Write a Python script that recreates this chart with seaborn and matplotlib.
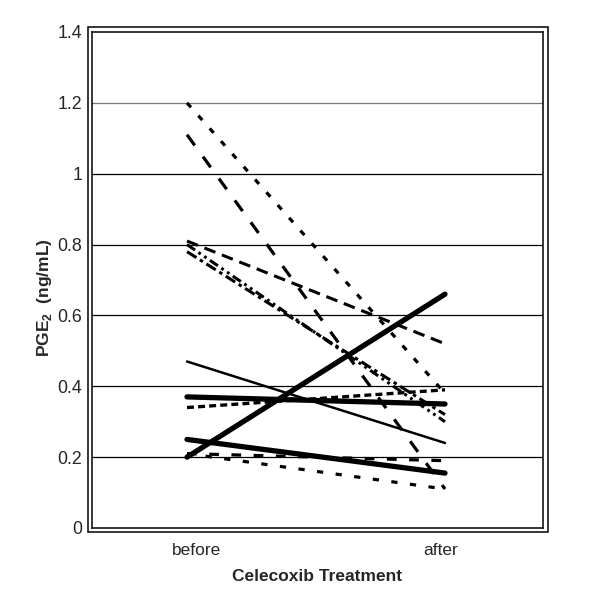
import numpy as np
import pandas as pd
import seaborn as sns
import matplotlib
matplotlib.use("Agg")
import matplotlib.pyplot as plt
from matplotlib.patches import Rectangle
import matplotlib.transforms as mtransforms

# ---- data ----
timepoints = ["before", "after"]
before = [1.20, 1.11, 0.81, 0.80, 0.78, 0.47, 0.37, 0.34, 0.20, 0.25, 0.21, 0.21]
after = [0.38, 0.11, 0.52, 0.30, 0.32, 0.24, 0.35, 0.39, 0.66, 0.155, 0.19, 0.11]
subjects = [f"s{i+1}" for i in range(len(before))]

# styles per subject (linewidth in pt, dash pattern in pt)
styles = [
    (2.3, (0, (4.3, 8.0))),
    (2.3, (0, (9.5, 10.0))),
    (2.2, (0, (8.5, 5.0))),
    (2.2, (0, (7, 3, 2, 3, 2, 3))),
    (2.2, (0, (8, 3, 2.5, 3))),
    (1.8, "-"),
    (3.8, "-"),
    (2.4, (0, (5, 3))),
    (3.8, "-"),
    (3.8, "-"),
    (2.3, (0, (7, 9))),
    (2.3, (0, (4.5, 9))),
]

df = pd.DataFrame({
    "subject": np.repeat(subjects, 2),
    "time": timepoints * len(subjects),
    "value": np.ravel(np.column_stack([before, after])),
})

sns.set_theme(style="white")
plt.rcParams["font.family"] = ["Liberation Sans", "DejaVu Sans"]
plt.rcParams["mathtext.fontset"] = "custom"
plt.rcParams["mathtext.bf"] = "Liberation Sans:bold"
plt.rcParams["mathtext.rm"] = "Liberation Sans"
plt.rcParams["lines.scale_dashes"] = False

fig = plt.figure(figsize=(6, 6), dpi=100)
ax = fig.add_axes([92 / 600, 72 / 600, 451 / 600, 496 / 600])

for subj, (lw, ls) in zip(subjects, styles):
    sub = df[df["subject"] == subj]
    sns.lineplot(data=sub, x="time", y="value", ax=ax, color="black",
                 linewidth=lw, linestyle=ls, sort=False, estimator=None)

ax.set_xlim(-95 / 258, 1 + 98 / 258)
ax.set_ylim(0, 1.4)
ax.set_yticks(np.arange(0, 1.41, 0.2))
ax.set_yticklabels(["0", "0.2", "0.4", "0.6", "0.8", "1", "1.2", "1.4"], fontsize=12.8)
ax.set_xticks([0, 1])
ax.set_xticklabels(timepoints, fontsize=12.5)
ax.set_xticks([97 / 258], minor=True)
ax.tick_params(axis="x", which="major", length=0, pad=11)
ax.tick_params(axis="x", which="minor", length=4, width=0.8, color="black", direction="out")
ax.tick_params(axis="y", length=0, pad=7)
for lab, dx in zip(ax.get_xticklabels(), [10, -4]):
    lab.set_transform(lab.get_transform() + mtransforms.ScaledTranslation(dx / 100, 0, fig.dpi_scale_trans))

# grid lines
for yv in np.arange(0.2, 1.21, 0.2):
    ax.axhline(yv, color="#777777" if yv > 1.1 else "black", lw=0.9, zorder=0)

for s in ax.spines.values():
    s.set_visible(True)
    s.set_color("black")
    s.set_linewidth(1.1)

# outer frame (double border)
outer = Rectangle((-4 / 451, -4 / 496), (451 + 9) / 451, (496 + 9) / 496,
                  transform=ax.transAxes, fill=False, edgecolor="black",
                  lw=1.1, clip_on=False)
ax.add_patch(outer)

ax.set_xlabel("Celecoxib Treatment", fontsize=12.5, fontweight="bold", labelpad=8)
ax.set_ylabel(r"PGE$_\mathbf{2}$  (ng/mL)", fontsize=12.5, fontweight="bold", labelpad=10)
ax.yaxis.set_label_coords(-0.085, 0.465)

fig.savefig("out.png", dpi=100, facecolor="white")
